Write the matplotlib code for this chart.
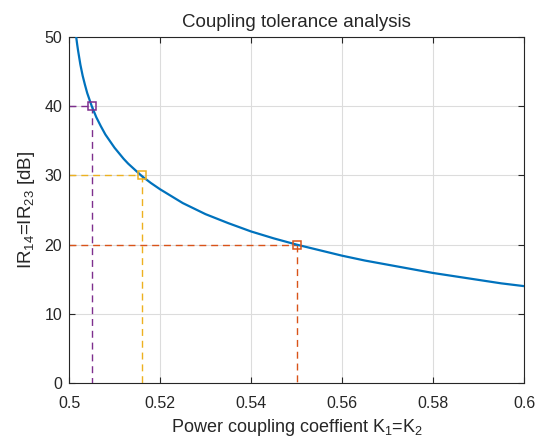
import matplotlib
matplotlib.use("Agg")
import matplotlib.pyplot as plt

# Curve values
K = [0.5016, 0.5018, 0.502, 0.5025, 0.503, 0.5035, 0.504, 0.505, 0.506, 0.507,
     0.508, 0.51, 0.512, 0.513, 0.516, 0.518, 0.52, 0.525, 0.53, 0.535, 0.54,
     0.545, 0.55, 0.56, 0.565, 0.57, 0.575, 0.58, 0.585, 0.59, 0.595, 0.6]
IR = [49.9, 48.9, 48.0, 46.0, 44.4, 43.1, 41.9, 40.0, 38.4, 37.1,
      35.9, 34.0, 32.4, 31.7, 29.9, 28.9, 28.0, 26.0, 24.4, 23.1, 21.9,
      20.9, 20.0, 18.4, 17.7, 17.1, 16.5, 15.9, 15.4, 14.9, 14.4, 14.0]

# Marked points
mark_K = [0.55, 0.516, 0.505]
mark_IR = [20, 30, 40]
mark_colors = ["#D95319", "#EDB120", "#7E2F8E"]

plt.rcParams['font.family'] = ['Liberation Sans', 'DejaVu Sans']
plt.rcParams['mathtext.fontset'] = 'custom'
plt.rcParams['mathtext.rm'] = 'Liberation Sans'
plt.rcParams['mathtext.it'] = 'Liberation Sans'

fig = plt.figure(figsize=(5.37, 4.4), dpi=100)
ax = fig.add_axes([0.1285, 0.1295, 0.8473, 0.7865])

ax.plot(K, IR, color="#0072BD", lw=1.6, zorder=3)

for xk, yk, c in zip(mark_K, mark_IR, mark_colors):
    ax.plot([0.5, xk], [yk, yk], ls=(0, (5, 3.5)), color=c, lw=1.0, zorder=2)
    ax.plot([xk, xk], [yk, 0], ls=(0, (5, 3.5)), color=c, lw=1.0, zorder=2)
    ax.plot([xk], [yk], marker='s', ms=6, mfc='none', mec=c, mew=1.1, zorder=4)

ax.set_xlim(0.5, 0.6)
ax.set_ylim(0, 50)
ax.set_xticks([0.5, 0.52, 0.54, 0.56, 0.58, 0.6])
ax.set_xticklabels(["0.5", "0.52", "0.54", "0.56", "0.58", "0.6"])
ax.set_yticks([0, 10, 20, 30, 40, 50])
ax.grid(True, color="#dcdcdc", lw=0.8)
ax.set_axisbelow(True)
ax.tick_params(direction='in', top=True, right=True, labelsize=11.5,
               color='#262626', labelcolor='#262626', length=4, width=0.8)
ax.tick_params(axis='x', pad=9)
ax.tick_params(axis='y', pad=5)
for s in ax.spines.values():
    s.set_color('#262626')
    s.set_linewidth(0.8)

ax.set_title("Coupling tolerance analysis", fontsize=13.5, color='#262626', pad=7)
ax.set_xlabel("Power coupling coeffient K$_1$=K$_2$", fontsize=13, color='#262626', labelpad=5)
ax.set_ylabel("IR$_{14}$=IR$_{23}$ [dB]", fontsize=13.5, color='#262626', labelpad=5)

fig.savefig("out.png", dpi=100)
